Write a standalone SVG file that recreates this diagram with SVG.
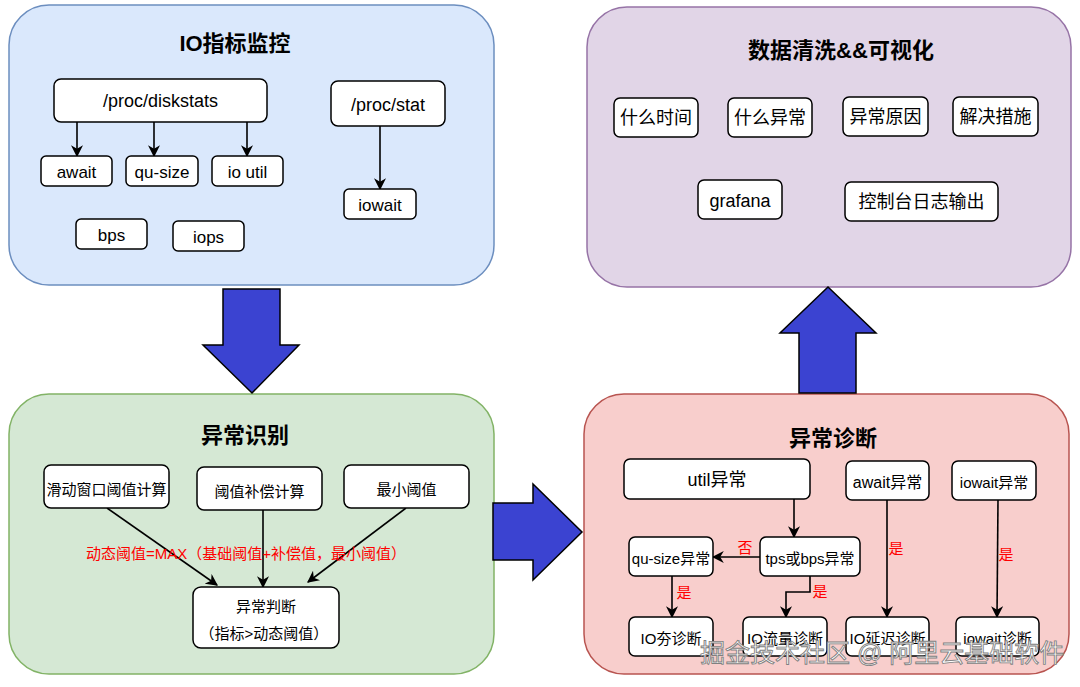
<svg xmlns="http://www.w3.org/2000/svg" width="1080" height="687" viewBox="0 0 1080 687">
<defs>
<style>
text{font-family:"Liberation Sans","Noto Sans CJK SC",sans-serif;fill:#000;text-anchor:middle;dominant-baseline:central}
.title{font-size:22px;font-weight:bold}
.box{fill:#fff;stroke:#000;stroke-width:1.5}
.t18{font-size:18px}.t17{font-size:17px}.t16{font-size:16px}.t15{font-size:15px}.t14{font-size:14px}
.red{fill:#ff0000;font-size:15px}
.conn{fill:none;stroke:#000;stroke-width:1.6;marker-end:url(#ah)}
.big{fill:#3b43d1;stroke:#000;stroke-width:1.5;stroke-linejoin:miter}
.wm{font-size:25px;fill:#fff;stroke:#808080;stroke-width:0.9;text-anchor:start;dominant-baseline:auto}
</style>
<marker id="ah" viewBox="0 0 10 10" refX="9" refY="5" markerWidth="12" markerHeight="12" markerUnits="userSpaceOnUse" orient="auto">
<path d="M0,0 L10,5 L0,10 L3,5 z" fill="#000"/>
</marker>
</defs>
<rect width="1080" height="687" fill="#fff"/>

<g id="panel-io">
<rect x="9" y="5" width="485" height="280" rx="40" fill="#dae8fc" stroke="#6c8ebf" stroke-width="1.5"/>
<text class="title" x="235" y="43">IO指标监控</text>
</g>
<g id="panel-clean">
<rect x="587" y="7" width="484" height="280" rx="40" fill="#e1d5e7" stroke="#9673a6" stroke-width="1.5"/>
<text class="title" x="841" y="50">数据清洗&amp;&amp;可视化</text>
</g>
<g id="panel-detect">
<rect x="9" y="394" width="485" height="280" rx="40" fill="#d5e8d4" stroke="#82b366" stroke-width="1.5"/>
<text class="title" x="245" y="435">异常识别</text>
</g>
<g id="panel-diag">
<rect x="584" y="394" width="485" height="280" rx="40" fill="#f8cecc" stroke="#b85450" stroke-width="1.5"/>
<text class="title" x="833" y="438">异常诊断</text>
</g>

<g id="big-arrows">
<path id="arrow-down" class="big" d="M223,289 L280,289 L280,345 L299,345 L252,393 L203,345 L223,345 Z"/>
<path id="arrow-right" class="big" d="M493,503 L533,503 L533,484 L582,532 L533,580 L533,560 L493,560 Z"/>
<path id="arrow-up" class="big" d="M799,393 L856,393 L856,333 L876,333 L828,287 L780,333 L799,333 Z"/>
</g>

<g id="connectors">
<line class="conn" x1="77" y1="122" x2="77" y2="156"/>
<line class="conn" x1="154" y1="122" x2="154" y2="156"/>
<line class="conn" x1="247" y1="122" x2="247" y2="156"/>
<line class="conn" x1="380" y1="126" x2="380" y2="189"/>
<line class="conn" x1="107" y1="508" x2="217" y2="585"/>
<line class="conn" x1="263" y1="510" x2="263" y2="587"/>
<line class="conn" x1="406" y1="508" x2="308" y2="582"/>
<line class="conn" x1="794" y1="499" x2="794" y2="537"/>
<line class="conn" x1="760" y1="557" x2="713" y2="557"/>
<line class="conn" x1="672" y1="576" x2="672" y2="617"/>
<polyline class="conn" points="810,576 810,592 786,592 786,617"/>
<line class="conn" x1="887" y1="500" x2="887" y2="617"/>
<line class="conn" x1="998" y1="500" x2="997" y2="617"/>
<text class="red" x="745" y="547">否</text>
<text class="red" x="684" y="592">是</text>
<text class="red" x="820" y="591">是</text>
<text class="red" x="896" y="548">是</text>
<text class="red" x="1006" y="554">是</text>
<text class="red" x="246" y="553">动态阈值=MAX（基础阈值+补偿值，最小阈值）</text>
</g>

<g id="n-diskstats"><rect class="box" x="54" y="79" width="213" height="43" rx="7"/><text class="t18" x="160.5" y="100.5">/proc/diskstats</text></g>
<g id="n-await"><rect class="box" x="41" y="156" width="71" height="30" rx="5"/><text class="t17" x="76.5" y="172">await</text></g>
<g id="n-qusize"><rect class="box" x="126" y="156" width="72" height="30" rx="5"/><text class="t17" x="162" y="172">qu-size</text></g>
<g id="n-ioutil"><rect class="box" x="212" y="156" width="71" height="30" rx="5"/><text class="t17" x="247.5" y="172">io util</text></g>
<g id="n-procstat"><rect class="box" x="331" y="81" width="114" height="45" rx="7"/><text class="t18" x="388" y="105">/proc/stat</text></g>
<g id="n-iowait"><rect class="box" x="344" y="189" width="72" height="30" rx="5"/><text class="t17" x="380" y="205">iowait</text></g>
<g id="n-bps"><rect class="box" x="76" y="219" width="71" height="30" rx="5"/><text class="t17" x="111.5" y="235">bps</text></g>
<g id="n-iops"><rect class="box" x="173" y="221" width="71" height="30" rx="5"/><text class="t17" x="208.5" y="237">iops</text></g>

<g id="n-when"><rect class="box" x="614" y="98" width="84" height="39" rx="6"/><text class="t18" x="656" y="118">什么时间</text></g>
<g id="n-what"><rect class="box" x="728" y="98" width="84" height="39" rx="6"/><text class="t18" x="770" y="118">什么异常</text></g>
<g id="n-cause"><rect class="box" x="843" y="97" width="85" height="39" rx="6"/><text class="t18" x="885.5" y="117">异常原因</text></g>
<g id="n-fix"><rect class="box" x="953" y="97" width="85" height="39" rx="6"/><text class="t18" x="995.5" y="117">解决措施</text></g>
<g id="n-grafana"><rect class="box" x="698" y="180" width="84" height="39" rx="6"/><text class="t18" x="740" y="201">grafana</text></g>
<g id="n-console"><rect class="box" x="845" y="182" width="153" height="39" rx="6"/><text class="t18" x="921.5" y="202">控制台日志输出</text></g>

<g id="n-window"><rect class="box" x="44" y="465" width="125" height="43" rx="7"/><text class="t15" x="106.5" y="489">滑动窗口阈值计算</text></g>
<g id="n-comp"><rect class="box" x="197" y="467" width="125" height="43" rx="7"/><text class="t15" x="259.5" y="491">阈值补偿计算</text></g>
<g id="n-min"><rect class="box" x="344" y="465" width="125" height="43" rx="7"/><text class="t15" x="406.5" y="489">最小阈值</text></g>
<g id="n-judge"><rect class="box" x="193" y="587" width="146" height="61" rx="8"/><text class="t15" x="266" y="606">异常判断</text><text class="t15" x="264" y="633">（指标&gt;动态阈值）</text></g>

<g id="n-util"><rect class="box" x="624" y="459" width="186" height="40" rx="6"/><text class="t18" x="717" y="480">util异常</text></g>
<g id="n-awaitab"><rect class="box" x="846" y="461" width="83" height="39" rx="6"/><text class="t16" x="887.5" y="482">await异常</text></g>
<g id="n-iowaitab"><rect class="box" x="952" y="461" width="84" height="39" rx="6"/><text class="t15" x="994" y="482">iowait异常</text></g>
<g id="n-qusizeab"><rect class="box" x="629" y="537" width="84" height="39" rx="6"/><text class="t15" x="671" y="558">qu-size异常</text></g>
<g id="n-tps"><rect class="box" x="760" y="537" width="100" height="39" rx="6"/><text class="t15" x="810" y="558">tps或bps异常</text></g>
<g id="n-hang"><rect class="box" x="629" y="617" width="84" height="39" rx="6"/><text class="t15" x="671" y="638">IO夯诊断</text></g>
<g id="n-flow"><rect class="box" x="743" y="617" width="84" height="39" rx="6"/><text class="t15" x="785" y="638">IO流量诊断</text></g>
<g id="n-lat"><rect class="box" x="846" y="617" width="83" height="39" rx="6"/><text class="t15" x="887.5" y="638">IO延迟诊断</text></g>
<g id="n-iowaitdiag"><rect class="box" x="956" y="617" width="83" height="39" rx="6"/><text class="t15" x="997.5" y="638">iowait诊断</text></g>

<text class="wm" x="700" y="662">掘金技术社区 @ 阿里云基础软件</text>
</svg>
